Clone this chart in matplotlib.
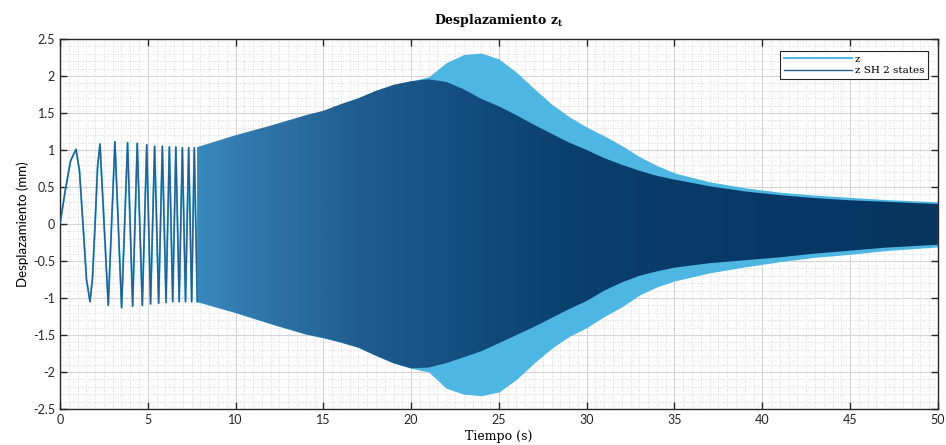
import numpy as np
import matplotlib
matplotlib.use('Agg')
import matplotlib.pyplot as plt
from matplotlib.colors import LinearSegmentedColormap, to_rgb
from matplotlib.patches import Polygon
from matplotlib.ticker import MultipleLocator, FormatStrFormatter

# early part (0-8 s): cycles are still resolved, both responses overlap
t_early = [0, 0.3, 0.6, 0.91, 1.11, 1.31, 1.51, 1.71, 1.85, 2.0, 2.14, 2.28,
           2.75, 3.13, 3.51, 3.85, 4.14, 4.40, 4.69, 4.94, 5.16, 5.39, 5.62,
           5.83, 6.04, 6.23, 6.42, 6.60, 6.79, 6.97, 7.15, 7.33, 7.50, 7.65, 7.82]
z_early = [0, 0.45, 0.85, 1.01, 0.72, 0.0, -0.75, -1.05, -0.74, 0.0, 0.77, 1.08,
           -1.10, 1.11, -1.13, 1.10, -1.11, 1.09, -1.10, 1.07, -1.08, 1.05, -1.07,
           1.05, -1.06, 1.04, -1.05, 1.04, -1.05, 1.03, -1.05, 1.03, -1.05, 1.03, -1.05]

# dense part: envelopes
t_env = [7.8, 10, 12, 14, 15, 16, 17, 18, 19, 20, 21, 22, 23, 24, 25, 26, 27, 28,
         29, 30, 31, 32, 33, 34, 35, 37, 39, 41, 43, 45, 47, 50]
z_up = [1.04, 1.20, 1.33, 1.47, 1.53, 1.62, 1.70, 1.80, 1.88, 1.93, 1.99, 2.18,
        2.29, 2.31, 2.23, 2.05, 1.83, 1.62, 1.45, 1.31, 1.19, 1.06, 0.91, 0.79,
        0.69, 0.57, 0.49, 0.43, 0.39, 0.36, 0.33, 0.30]
z_low = [-1.05, -1.20, -1.35, -1.49, -1.54, -1.60, -1.67, -1.78, -1.88, -1.95,
         -2.00, -2.22, -2.30, -2.32, -2.27, -2.10, -1.88, -1.68, -1.52, -1.40,
         -1.25, -1.12, -0.96, -0.85, -0.77, -0.66, -0.58, -0.51, -0.45, -0.41,
         -0.36, -0.31]
sh_up = [1.04, 1.20, 1.33, 1.47, 1.53, 1.62, 1.70, 1.80, 1.88, 1.93, 1.955, 1.92,
         1.82, 1.69, 1.59, 1.47, 1.34, 1.22, 1.10, 1.00, 0.89, 0.80, 0.72, 0.65,
         0.60, 0.51, 0.44, 0.39, 0.35, 0.32, 0.30, 0.27]
sh_low = [-1.05, -1.20, -1.35, -1.49, -1.54, -1.60, -1.67, -1.78, -1.88, -1.95,
          -1.94, -1.88, -1.80, -1.72, -1.61, -1.50, -1.39, -1.27, -1.15, -1.04,
          -0.90, -0.79, -0.70, -0.64, -0.59, -0.53, -0.49, -0.45, -0.40, -0.36,
          -0.32, -0.28]

c_z = '#4db6e2'
c_sh = '#245f8f'

fig = plt.figure(figsize=(9.46, 4.45), dpi=100)
ax = fig.add_axes([0.0634, 0.0809, 0.928, 0.8315])

# light response (z) underneath
ax.plot(t_early, z_early, color=c_z, lw=1.4, label='z', zorder=2)
ax.fill_between(t_env, z_low, z_up, color=c_z, lw=0, zorder=2)

# dark response on top; the shade gets denser as the oscillation packs up
ax.plot(t_early, z_early, color=c_sh, lw=1.0, label='z SH 2 states', zorder=3)
stops = [(0.0, '#2f74ab', 0.7), (0.06, '#2c70a6', 0.85), (0.13, '#2a6a9d', 0.95),
         (0.20, '#225f91', 1.0), (0.29, '#1a5587', 1.0), (0.41, '#0f4878', 1.0),
         (0.52, '#0a3f6d', 1.0), (0.76, '#073868', 1.0), (1.0, '#06355f', 1.0)]
cmap = LinearSegmentedColormap.from_list(
    'dens', [(p, (*to_rgb(c), a)) for p, c, a in stops])
verts = list(zip(t_env, sh_up)) + list(zip(t_env[::-1], sh_low[::-1]))
poly = Polygon(verts, closed=True, facecolor='none', edgecolor='none')
ax.add_patch(poly)
grad = np.linspace(0, 1, 600)[None, :]
im = ax.imshow(grad, extent=[t_env[0], t_env[-1], -2.5, 2.5], aspect='auto',
               cmap=cmap, zorder=3, interpolation='bilinear')
im.set_clip_path(poly)

ax.set_xlim(0, 50)
ax.set_ylim(-2.5, 2.5)
ax.xaxis.set_major_locator(MultipleLocator(5))
ax.xaxis.set_minor_locator(MultipleLocator(0.5))
ax.yaxis.set_major_locator(MultipleLocator(0.5))
ax.yaxis.set_minor_locator(MultipleLocator(0.1))
ax.yaxis.set_major_formatter(FormatStrFormatter('%g'))

ax.grid(which='major', color='#d4d4d4', lw=0.8, ls='-', zorder=0)
ax.grid(which='minor', color='#cfcfcf', lw=0.6, ls=(0, (1, 2)), zorder=0)
ax.set_axisbelow(True)

ax.tick_params(which='major', direction='in', length=5, width=1, top=True, right=True,
               labelsize=9, colors='#262626', labelcolor='#262626')
ax.tick_params(which='minor', length=0, top=True, right=True)
for lab in ax.get_xticklabels() + ax.get_yticklabels():
    lab.set_family('Lato')
for s in ax.spines.values():
    s.set_linewidth(1.0)
    s.set_color('#262626')

ax.set_title('Desplazamiento z$_\\mathregular{t}$', family='DejaVu Serif',
             fontweight='bold', fontsize=9, pad=11)
ax.set_xlabel('Tiempo (s)', family='DejaVu Serif', fontsize=9, labelpad=3)
ax.set_ylabel('Desplazamiento (mm)', family='Lato', fontsize=9.5, labelpad=3)

leg = ax.legend(loc='upper right', bbox_to_anchor=(0.9945, 0.982), fancybox=False,
                framealpha=1, edgecolor='#262626',
                prop={'family': 'DejaVu Serif', 'size': 7.5},
                handlelength=6.5, handletextpad=0.3, borderpad=0.35, labelspacing=0.2)
leg.get_frame().set_linewidth(0.8)

fig.savefig('out.png', dpi=100)
